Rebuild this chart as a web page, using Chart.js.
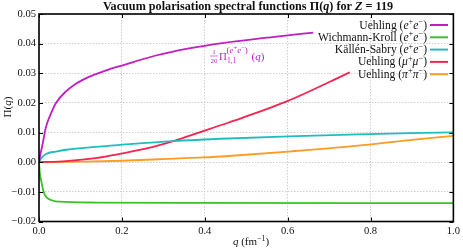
<!DOCTYPE html>
<html>
<head>
<meta charset="utf-8">
<script src="https://cdn.jsdelivr.net/npm/chart.js@4.4.0/dist/chart.umd.min.js"></script>
<style>
  body { margin: 0; background: #fff; }
  canvas { display: block; }
</style>
</head>
<body>
<canvas id="vpChart" width="463" height="250"></canvas>
<script>
// Data (q in fm^-1, Pi(q))
const uehQ = [0, 0.0024, 0.009, 0.017, 0.029, 0.041, 0.065, 0.089, 0.113, 0.137, 0.162, 0.202, 0.282, 0.362, 0.442, 0.55, 0.626, 0.662];
const uehV = [0, 0.0019, 0.0064, 0.012, 0.0165, 0.020, 0.0239, 0.0265, 0.0283, 0.0297, 0.0310, 0.0327, 0.0360, 0.0384, 0.0402, 0.0420, 0.0432, 0.0437];

const wkQ = [0, 0.002, 0.005, 0.009, 0.014, 0.025, 0.049, 0.137, 0.4, 1.0];
const wkV = [0, -0.0037, -0.006, -0.0088, -0.011, -0.0125, -0.0133, -0.0136, -0.0137, -0.0138];

const ksQ = [0, 0.005, 0.017, 0.041, 0.065, 0.122, 0.202, 0.322, 0.458, 0.602, 0.77, 1.0];
const ksV = [0, 0.0013, 0.0028, 0.0036, 0.0042, 0.0050, 0.0059, 0.0071, 0.0080, 0.0087, 0.0094, 0.0101];

const muQ = [0, 0.065, 0.137, 0.202, 0.265, 0.326, 0.386, 0.458, 0.598, 0.75];
const muV = [0, 0.0004, 0.0014, 0.003, 0.0048, 0.0072, 0.0100, 0.0134, 0.0205, 0.0303];

const piQ = [0, 0.1, 0.2, 0.29, 0.398, 0.458, 0.602, 0.77, 0.882, 1.0];
const piV = [0, 0.0002, 0.0005, 0.001, 0.0016, 0.0021, 0.0036, 0.0056, 0.0073, 0.0089];

const xTicks = [0, 0.2, 0.4, 0.6, 0.8, 1.0];
const yTicks = [-0.02, -0.01, 0, 0.01, 0.02, 0.03, 0.04, 0.05];

const SERIF = '"Liberation Serif", "DejaVu Serif", serif';

// Legend entries: rich text segments (it = italic, sup = superscript)
const legendItems = [
  { color: '#c21cc4', segs: [{ t: 'Uehling (' }, { t: 'e', it: 1 }, { t: '+', sup: 1 }, { t: 'e', it: 1 }, { t: '\u2212', sup: 1 }, { t: ')' }] },
  { color: '#3cc02a', segs: [{ t: 'Wichmann-Kroll (' }, { t: 'e', it: 1 }, { t: '+', sup: 1 }, { t: 'e', it: 1 }, { t: '\u2212', sup: 1 }, { t: ')' }] },
  { color: '#1fbcc2', segs: [{ t: 'K\u00e4ll\u00e9n-Sabry (' }, { t: 'e', it: 1 }, { t: '+', sup: 1 }, { t: 'e', it: 1 }, { t: '\u2212', sup: 1 }, { t: ')' }] },
  { color: '#f5234d', segs: [{ t: 'Uehling (' }, { t: '\u03bc', it: 1 }, { t: '+', sup: 1 }, { t: '\u03bc', it: 1 }, { t: '\u2212', sup: 1 }, { t: ')' }] },
  { color: '#ff9c21', segs: [{ t: 'Uehling (' }, { t: '\u03c0', it: 1 }, { t: '+', sup: 1 }, { t: '\u03c0', it: 1 }, { t: '\u2212', sup: 1 }, { t: ')' }] }
];

function toPoints(qs, vs) {
  return qs.map((q, i) => ({ x: q, y: vs[i] }));
}

function segFont(s, size, weight) {
  const fs = (s.sup || s.sub) ? size * 0.72 : size;
  return (s.it ? 'italic ' : '') + (weight || '') + ' ' + fs + 'px ' + SERIF;
}

// Width of a list of rich text segments
function richWidth(ctx, segs, size, weight) {
  let w = 0;
  segs.forEach(s => {
    ctx.font = segFont(s, size, weight);
    w += ctx.measureText(s.t).width;
  });
  return w;
}

// Draw rich text segments, returns width
function drawRich(ctx, segs, x, y, size, align, weight) {
  const w = richWidth(ctx, segs, size, weight);
  let cx = align === 'right' ? x - w : align === 'center' ? x - w / 2 : x;
  ctx.textAlign = 'left';
  ctx.textBaseline = 'alphabetic';
  segs.forEach(s => {
    ctx.font = segFont(s, size, weight);
    let dy = 0;
    if (s.sup) dy = -size * 0.38;
    if (s.sub) dy = size * 0.22;
    ctx.fillText(s.t, cx, y + dy);
    cx += ctx.measureText(s.t).width;
  });
  return w;
}

// Frame, inward ticks, labels, legend and annotation
const decorPlugin = {
  id: 'decor',
  afterDraw(chart) {
    const ctx = chart.ctx;
    const a = chart.chartArea;
    const xs = chart.scales.x, ys = chart.scales.y;
    ctx.save();

    // inward tick marks on all four sides
    ctx.strokeStyle = '#000';
    ctx.lineWidth = 1;
    ctx.beginPath();
    xTicks.forEach(v => {
      const px = Math.round(xs.getPixelForValue(v)) + 0.5;
      ctx.moveTo(px, a.bottom); ctx.lineTo(px, a.bottom - 4);
      ctx.moveTo(px, a.top); ctx.lineTo(px, a.top + 4);
    });
    yTicks.forEach(v => {
      const py = Math.round(ys.getPixelForValue(v)) + 0.5;
      ctx.moveTo(a.left, py); ctx.lineTo(a.left + 4, py);
      ctx.moveTo(a.right, py); ctx.lineTo(a.right - 4, py);
    });
    ctx.stroke();

    // frame
    ctx.lineWidth = 1.6;
    ctx.strokeRect(a.left, a.top, a.right - a.left, a.bottom - a.top);

    // title
    ctx.fillStyle = '#111';
    drawRich(ctx, [
      { t: 'Vacuum polarisation spectral functions \u03a0(' }, { t: 'q', it: 1 }, { t: ') for ' },
      { t: 'Z', it: 1 }, { t: ' = 119' }
    ], 248, 9.5, 12.2, 'center', 'bold');

    // x axis label
    drawRich(ctx, [{ t: 'q', it: 1 }, { t: ' (fm' }, { t: '\u22121', sup: 1 }, { t: ')' }], 251, 245, 11, 'center');

    // y axis label (rotated)
    ctx.save();
    ctx.translate(11, 107);
    ctx.rotate(-Math.PI / 2);
    drawRich(ctx, [{ t: '\u03a0(' }, { t: 'q', it: 1 }, { t: ')' }], 0, 0, 11, 'center');
    ctx.restore();

    // legend
    legendItems.forEach((item, i) => {
      const y = 28.5 + i * 12.3;
      ctx.fillStyle = '#111';
      drawRich(ctx, item.segs, 427, y, 11.6, 'right');
      ctx.strokeStyle = item.color;
      ctx.lineWidth = 2;
      ctx.beginPath();
      ctx.moveTo(430, y - 3.5);
      ctx.lineTo(448, y - 3.5);
      ctx.stroke();
    });

    // annotation 1/20 Pi_{1,1}^{(e+e-)}(q)
    const mag = legendItems[0].color;
    ctx.fillStyle = mag;
    ctx.strokeStyle = mag;
    ctx.font = '7px ' + SERIF;
    ctx.textAlign = 'center';
    ctx.fillText('1', 214, 54);
    ctx.fillText('20', 214, 62.5);
    ctx.lineWidth = 0.6;
    ctx.beginPath();
    ctx.moveTo(210, 56); ctx.lineTo(218, 56);
    ctx.stroke();
    ctx.textAlign = 'left';
    ctx.font = '11px ' + SERIF;
    ctx.fillText('\u03a0', 219, 60);
    drawRich(ctx, [{ t: '(' }, { t: 'e', it: 1 }, { t: '+', sup: 1 }, { t: 'e', it: 1 }, { t: '\u2212', sup: 1 }, { t: ')' }], 226.5, 53, 9, 'left');
    ctx.font = '7.5px ' + SERIF;
    ctx.fillText('1,1', 227, 63);
    drawRich(ctx, [{ t: '(' }, { t: 'q', it: 1 }, { t: ')' }], 251.5, 60, 11, 'left');

    ctx.restore();
  }
};

const lineStyle = color => ({
  borderColor: color,
  backgroundColor: color,
  borderWidth: 1.8,
  pointRadius: 0,
  fill: false,
  cubicInterpolationMode: 'monotone'
});

const ctx = document.getElementById('vpChart');
new Chart(ctx, {
  type: 'line',
  data: {
    datasets: [
      { label: 'Uehling (e+e-)', data: toPoints(uehQ, uehV), ...lineStyle(legendItems[0].color) },
      { label: 'Wichmann-Kroll (e+e-)', data: toPoints(wkQ, wkV), ...lineStyle(legendItems[1].color) },
      { label: 'K\u00e4ll\u00e9n-Sabry (e+e-)', data: toPoints(ksQ, ksV), ...lineStyle(legendItems[2].color) },
      { label: 'Uehling (mu+mu-)', data: toPoints(muQ, muV), ...lineStyle(legendItems[3].color) },
      { label: 'Uehling (pi+pi-)', data: toPoints(piQ, piV), ...lineStyle(legendItems[4].color) }
    ]
  },
  options: {
    responsive: false,
    animation: false,
    devicePixelRatio: 1,
    layout: { padding: { top: 14, right: 7, left: 0, bottom: 0 } },
    plugins: {
      legend: { display: false },
      title: { display: false },
      tooltip: { enabled: false }
    },
    scales: {
      x: {
        type: 'linear',
        min: 0,
        max: 1,
        afterFit: s => { s.height = 28.5; },
        afterBuildTicks: s => { s.ticks = xTicks.map(v => ({ value: v })); },
        ticks: {
          padding: 3,
          color: '#111',
          font: { family: SERIF, size: 10.6 },
          callback: v => v.toFixed(1)
        },
        grid: { color: '#cfcfcf', lineWidth: 1, drawTicks: false },
        border: { display: false, dash: [1.5, 1.5] }
      },
      y: {
        type: 'linear',
        min: -0.02,
        max: 0.05,
        afterFit: s => { s.width = 39; },
        afterBuildTicks: s => { s.ticks = yTicks.map(v => ({ value: v })); },
        ticks: {
          padding: 3,
          color: '#111',
          font: { family: SERIF, size: 10.6 },
          callback: v => v.toFixed(2).replace('-', '\u2212')
        },
        grid: { color: '#cfcfcf', lineWidth: 1, drawTicks: false },
        border: { display: false, dash: [1.5, 1.5] }
      }
    }
  },
  plugins: [decorPlugin]
});
</script>
</body>
</html>
